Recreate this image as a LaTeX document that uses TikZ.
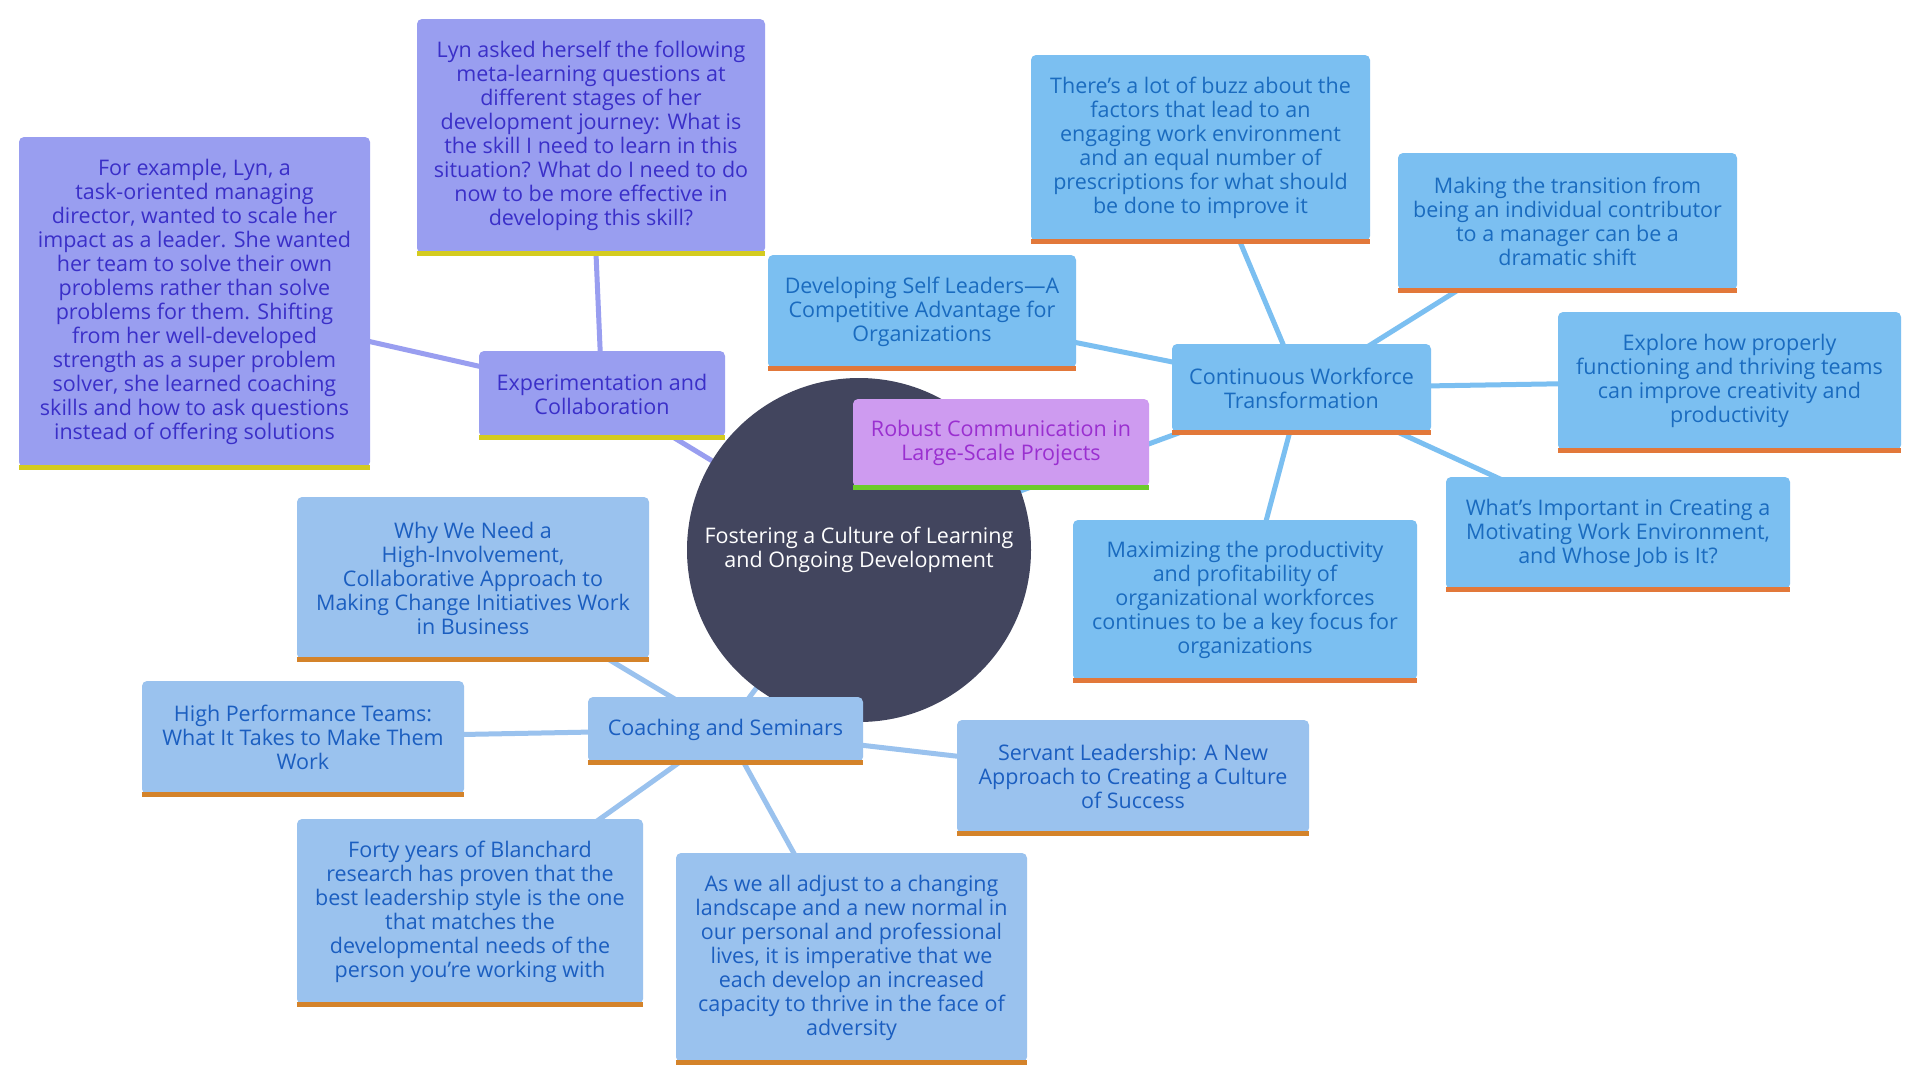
\documentclass[tikz,border=0pt]{standalone}
\usepackage{fontspec}
\setmainfont{Open Sans}
\usetikzlibrary{backgrounds}
\definecolor{expfill}{HTML}{999EF0}
\definecolor{exptext}{HTML}{3A2FC8}
\definecolor{expline}{HTML}{D4CB1F}
\definecolor{cwtfill}{HTML}{7BBFF1}
\definecolor{cwttext}{HTML}{1A6BBF}
\definecolor{cwtline}{HTML}{E2783A}
\definecolor{coafill}{HTML}{9AC2EE}
\definecolor{coatext}{HTML}{1B5EC0}
\definecolor{coaline}{HTML}{D4832A}
\definecolor{robfill}{HTML}{CE9BF0}
\definecolor{robtext}{HTML}{9A2FD0}
\definecolor{robline}{HTML}{6CCB2A}
\definecolor{rootfill}{HTML}{42455E}
\tikzset{
  mmbox/.style={rectangle, rounded corners=5pt, inner sep=0pt, align=center,
    font=\fontsize{21.5}{24}\selectfont},
  expbox/.style={mmbox, fill=expfill, text=exptext},
  cwtbox/.style={mmbox, fill=cwtfill, text=cwttext},
  coabox/.style={mmbox, fill=coafill, text=coatext},
  robbox/.style={mmbox, fill=robfill, text=robtext},
  expborder/.style={draw=expline, line width=5pt},
  cwtborder/.style={draw=cwtline, line width=5pt},
  coaborder/.style={draw=coaline, line width=5pt},
  robborder/.style={draw=robline, line width=5pt},
  expedge/.style={draw=expfill, line width=5pt},
  cwtedge/.style={draw=cwtfill, line width=5pt},
  coaedge/.style={draw=coafill, line width=5pt},
  robedge/.style={draw=robfill, line width=5pt},
}
% name, style prefix, cx, cy, w, h, text
\newcommand{\leafbox}[7]{%
  \node[#2box, minimum width=#5pt, minimum height=#6pt] (#1) at (#3,#4) {#7};
  \draw[#2border] (#1.south west) -- (#1.south east);
}
\begin{document}
\begin{tikzpicture}[x=1pt,y=-1pt]
\useasboundingbox (0,0) rectangle (1920,1080);

\node[circle, fill=rootfill, text=white, minimum size=344pt, inner sep=0pt, align=center,
  font=\fontsize{21.5}{24}\selectfont] (root) at (859,550)
  {Fostering a Culture of Learning\\and Ongoing Development};

% Experimentation branch
\leafbox{exp}{exp}{602}{394}{246}{86}{Experimentation and\\Collaboration}
\leafbox{exa}{exp}{194.5}{302}{351}{330}{For example, Lyn, a\\task-oriented managing\\director, wanted to scale her\\impact as a leader. She wanted\\her team to solve their own\\problems rather than solve\\problems for them. Shifting\\from her well-developed\\strength as a super problem\\solver, she learned coaching\\skills and how to ask questions\\instead of offering solutions}
\leafbox{lyn}{exp}{591}{136}{348}{234}{Lyn asked herself the following\\meta-learning questions at\\different stages of her\\development journey: What is\\the skill I need to learn in this\\situation? What do I need to do\\now to be more effective in\\developing this skill?}

% Continuous Workforce branch
\leafbox{cwt}{cwt}{1301.5}{388}{259}{88}{Continuous Workforce\\Transformation}
\leafbox{buzz}{cwt}{1200.5}{148}{339}{186}{There’s a lot of buzz about the\\factors that lead to an\\engaging work environment\\and an equal number of\\prescriptions for what should\\be done to improve it}
\leafbox{trans}{cwt}{1567.5}{221.5}{339}{137}{Making the transition from\\being an individual contributor\\to a manager can be a\\dramatic shift}
\leafbox{self}{cwt}{922}{311.5}{308}{113}{Developing Self Leaders—A\\Competitive Advantage for\\Organizations}
\leafbox{expl}{cwt}{1729.5}{381}{343}{138}{Explore how properly\\functioning and thriving teams\\can improve creativity and\\productivity}
\leafbox{what}{cwt}{1618}{533}{344}{112}{What’s Important in Creating a\\Motivating Work Environment,\\and Whose Job is It?}
\leafbox{maxi}{cwt}{1245}{600}{344}{160}{Maximizing the productivity\\and profitability of\\organizational workforces\\continues to be a key focus for\\organizations}

% Robust
\leafbox{rob}{rob}{1001}{443}{296}{88}{Robust Communication in\\Large-Scale Projects}

% Coaching branch
\leafbox{coa}{coa}{725.5}{729.5}{275}{65}{Coaching and Seminars}
\leafbox{why}{coa}{473}{578}{352}{162}{Why We Need a\\High-Involvement,\\Collaborative Approach to\\Making Change Initiatives Work\\in Business}
\leafbox{hpt}{coa}{303}{737.5}{322}{113}{High Performance Teams:\\What It Takes to Make Them\\Work}
\leafbox{forty}{coa}{470}{911.5}{346}{185}{Forty years of Blanchard\\research has proven that the\\best leadership style is the one\\that matches the\\developmental needs of the\\person you’re working with}
\leafbox{adj}{coa}{851.5}{957.5}{351}{209}{As we all adjust to a changing\\landscape and a new normal in\\our personal and professional\\lives, it is imperative that we\\each develop an increased\\capacity to thrive in the face of\\adversity}
\leafbox{serv}{coa}{1133}{776.5}{352}{113}{Servant Leadership: A New\\Approach to Creating a Culture\\of Success}

\begin{scope}[on background layer]
  \fill[white] (0,0) rectangle (1920,1080);
  \draw[expedge] (root.center) -- (exp.center);
  \draw[expedge] (exp.center) -- (exa.center);
  \draw[expedge] (exp.center) -- (lyn.center);
  \draw[cwtedge] (root.center) -- (cwt.center);
  \draw[cwtedge] (cwt.center) -- (buzz.center);
  \draw[cwtedge] (cwt.center) -- (trans.center);
  \draw[cwtedge] (cwt.center) -- (self.center);
  \draw[cwtedge] (cwt.center) -- (expl.center);
  \draw[cwtedge] (cwt.center) -- (what.center);
  \draw[cwtedge] (cwt.center) -- (maxi.center);
  \draw[robedge] (root.center) -- (rob.center);
  \draw[coaedge] (root.center) -- (coa.center);
  \draw[coaedge] (coa.center) -- (why.center);
  \draw[coaedge] (coa.center) -- (hpt.center);
  \draw[coaedge] (coa.center) -- (forty.center);
  \draw[coaedge] (coa.center) -- (adj.center);
  \draw[coaedge] (coa.center) -- (serv.center);
\end{scope}
\end{tikzpicture}
\end{document}
